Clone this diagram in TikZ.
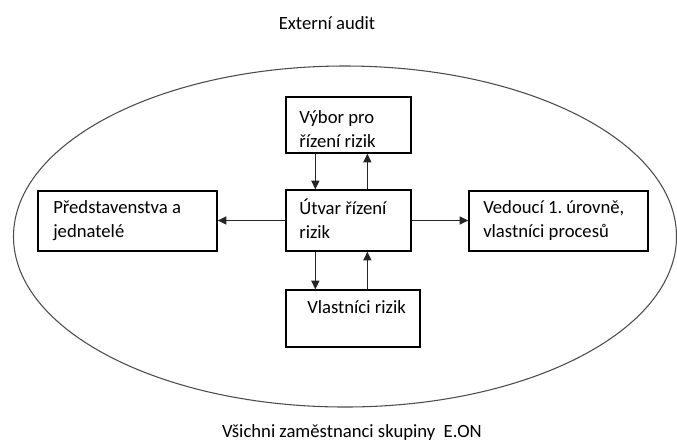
\documentclass[tikz,border=0pt]{standalone}
\usepackage{fontspec}
\setmainfont{Carlito}
\frenchspacing
\usetikzlibrary{arrows.meta,calc}
\begin{document}
\begin{tikzpicture}[x=0.75pt,y=-0.75pt,
  every node/.style={font=\fontsize{14pt}{18pt}\selectfont, text=black},
  box/.style={draw=black, line width=1pt, inner sep=0pt},
  lbl/.style={anchor=base west, inner sep=0pt, align=left},
  arr/.style={draw=black!85, line width=1pt, -{Triangle[length=6.5pt,width=6pt]}},
  ring/.style={draw=black!70, line width=0.8pt}]
  \useasboundingbox (0,0) rectangle (677,444);
  % outer ellipse: all employees of the group
  \draw[ring] (345,236.5) ellipse [x radius=331.5, y radius=170.5];

  % boxes
  \node[box, minimum width=125*0.75pt, minimum height=56*0.75pt] (vybor) at (348.5,125) {};
  \node[box, minimum width=125*0.75pt, minimum height=61*0.75pt] (utvar) at (348.5,220.5) {};
  \node[box, minimum width=179*0.75pt, minimum height=60*0.75pt] (pred) at (127.5,221) {};
  \node[box, minimum width=179*0.75pt, minimum height=60*0.75pt] (ved) at (558.5,221) {};
  \node[box, minimum width=134*0.75pt, minimum height=57*0.75pt] (vlast) at (353,318.5) {};

  % labels (base anchor sits on the last line)
  \node[anchor=base, inner sep=0pt] (ext) at (327,29) {Externí audit};
  \node[lbl] (tvybor) at (299,147) {Výbor pro\\řízení rizik};
  \node[lbl] (tutvar) at (299,238) {Útvar řízení\\rizik};
  \node[lbl] (tpred) at (53,237) {Představenstva a\\jednatelé};
  \node[lbl] (tved) at (483,237) {Vedoucí 1. úrovně,\\vlastníci procesů};
  \node[lbl] (tvlast) at (307,313) {Vlastníci rizik};
  \node[anchor=base, inner sep=0pt] (vsichni) at (352,437) {Všichni zaměstnanci skupiny\ \ E.ON};

  % connectors
  \draw[arr] (utvar.west) -- (utvar.west -| pred.east);
  \draw[arr] (utvar.east) -- (utvar.east -| ved.west);
  \draw[arr] ($(vybor.south west)+(30,0)$) -- ($(utvar.north west)+(30,0)$);
  \draw[arr] ($(utvar.north west)+(82,0)$) -- ($(vybor.south west)+(82,0)$);
  \draw[arr] ($(utvar.south west)+(30,0)$) -- ($(vlast.north west)+(30,0)$);
  \draw[arr] ($(vlast.north west)+(82,0)$) -- ($(utvar.south west)+(82,0)$);
\end{tikzpicture}
\end{document}
